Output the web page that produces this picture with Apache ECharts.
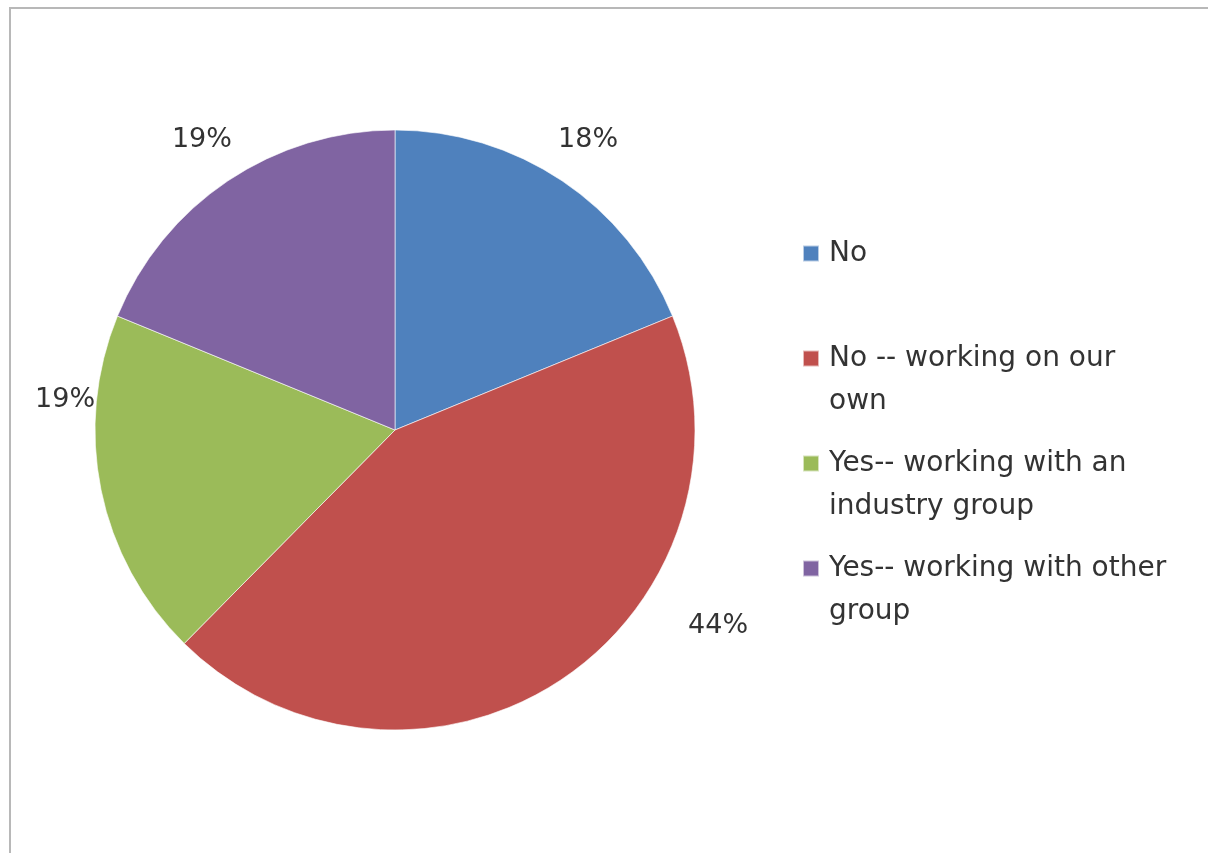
<!DOCTYPE html>
<html>
<head>
<meta charset="utf-8">
<script src="https://cdn.jsdelivr.net/npm/echarts@6/dist/echarts.min.js"></script>
<style>
html,body{margin:0;padding:0;background:#fff;}
#wrap{position:relative;width:1208px;height:853px;overflow:hidden;}
#frame{position:absolute;left:9px;top:7px;width:1260px;height:900px;border:2px solid #b8b8b8;box-sizing:border-box;}
#chart{position:absolute;left:0;top:0;width:1208px;height:853px;}
</style>
</head>
<body>
<div id="wrap"><div id="frame"></div><div id="chart"></div></div>
<script>
const categories = ["No", "No -- working on our\nown", "Yes-- working with an\nindustry group", "Yes-- working with other\ngroup"];
const values = [18.8, 43.6, 18.8, 18.8];
const percentLabels = ["18%", "44%", "19%", "19%"];

const colors = ["#4F81BD", "#C0504D", "#9BBB59", "#8064A2"];
const labelOffsets = [[-9, -41], [121, -53], [-1, -90], [9, -41]];
const FONT = "DejaVu Sans";

const chart = echarts.init(document.getElementById('chart'));
chart.setOption({
  animation: false,
  backgroundColor: 'transparent',
  color: colors,
  legend: {
    orient: 'vertical',
    left: 797,
    top: 184,
    itemWidth: 16,
    itemHeight: 16,
    itemGap: -24,
    icon: 'rect',
    selectedMode: false,
    formatter: function (name) {
      const lines = name.split('\n');
      return ' \n' + lines[0] + '\n' + (lines[1] || ' ');
    },
    textStyle: {
      fontFamily: FONT,
      fontSize: 28,
      color: '#333',
      lineHeight: 43,
      padding: [0, 0, 0, 5]
    },
    data: categories
  },
  series: [{
    type: 'pie',
    center: [395, 430],
    radius: 300,
    startAngle: 90,
    clockwise: true,
    avoidLabelOverlap: false,
    itemStyle: { borderColor: 'rgba(255,255,255,0.6)', borderWidth: 1 },
    label: {
      show: true,
      position: 'outside',
      fontFamily: FONT,
      fontSize: 27,
      color: '#333',
      formatter: function (p) { return percentLabels[p.dataIndex]; }
    },
    labelLine: { show: false, length: 0, length2: 0 },
    labelLayout: function (p) {
      return { dx: labelOffsets[p.dataIndex][0], dy: labelOffsets[p.dataIndex][1] };
    },
    emphasis: { disabled: true },
    data: categories.map(function (c, i) { return { name: c, value: values[i] }; })
  }]
});
</script>
</body>
</html>
